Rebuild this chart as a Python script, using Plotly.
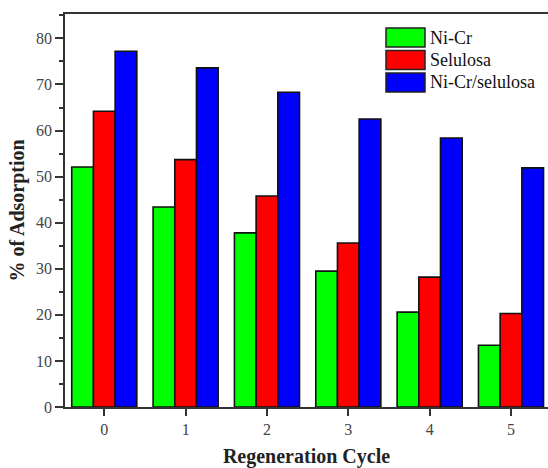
import plotly.graph_objects as go

# Adsorption (%) for each regeneration cycle
cycles = [0, 1, 2, 3, 4, 5]
ni_cr = [52.1, 43.4, 37.8, 29.5, 20.6, 13.4]
selulosa = [64.2, 53.7, 45.8, 35.6, 28.2, 20.3]
ni_cr_selulosa = [77.2, 73.6, 68.3, 62.5, 58.4, 51.9]

series_names = ["Ni-Cr", "Selulosa", "Ni-Cr/selulosa"]
series_values = [ni_cr, selulosa, ni_cr_selulosa]
series_colors = ["#00FF00", "#FF0000", "#0000FF"]

W, H = 548, 468
M_L, M_R, M_T, M_B = 65, 0, 14, 61
PLOT_W = W - M_L - M_R
PLOT_H = H - M_T - M_B

FONT = "Liberation Serif"
AXIS_COLOR = "#333333"

fig = go.Figure()
for name, vals, col in zip(series_names, series_values, series_colors):
    fig.add_trace(go.Bar(
        x=cycles, y=vals, name=name,
        marker=dict(color=col, line=dict(color="#111111", width=1.6)),
        showlegend=False,
    ))

# Boxed legend in the upper right corner
def px_x(p):
    return (p - M_L) / PLOT_W

def px_y(p):
    return (M_T + PLOT_H - p) / PLOT_H

row_centers = [37.5, 60.0, 82.5]
for name, col, yc in zip(series_names, series_colors, row_centers):
    fig.add_shape(
        type="rect", xref="paper", yref="paper",
        x0=px_x(386), x1=px_x(425), y0=px_y(yc + 9.5), y1=px_y(yc - 9.5),
        fillcolor=col, line=dict(color="#222222", width=1.5),
    )
    fig.add_annotation(
        xref="paper", yref="paper", x=px_x(428), y=px_y(yc),
        xanchor="left", yanchor="middle", showarrow=False,
        text=name, font=dict(family=FONT, size=18, color="#111111"),
    )

fig.update_layout(
    width=W, height=H,
    margin=dict(l=M_L, r=M_R, t=M_T, b=M_B),
    paper_bgcolor="white", plot_bgcolor="white",
    barmode="group", bargap=0.2, bargroupgap=0,
    font=dict(family=FONT, size=14, color="#444444"),
)

fig.update_xaxes(
    range=[-0.483, 5.455],
    tickmode="array", tickvals=cycles, ticktext=[str(c) for c in cycles],
    ticks="outside", ticklen=7, tickwidth=1.5, tickcolor=AXIS_COLOR,
    showline=True, linecolor=AXIS_COLOR, linewidth=1.5, mirror=True,
    showgrid=False, zeroline=False,
    tickfont=dict(family=FONT, size=16, color="#444444"),
    title=dict(text="<b>Regeneration Cycle</b>", standoff=12,
               font=dict(family=FONT, size=20, color="#222222")),
)

fig.update_yaxes(
    range=[0, 85.3],
    tickmode="array", tickvals=list(range(0, 81, 10)),
    ticks="outside", ticklen=8, tickwidth=1.5, tickcolor=AXIS_COLOR,
    minor=dict(tickvals=list(range(5, 86, 10)), ticks="outside", ticklen=4,
               tickwidth=1.5, tickcolor=AXIS_COLOR, showgrid=False),
    showline=True, linecolor=AXIS_COLOR, linewidth=1.5,
    showgrid=False, zeroline=False,
    tickfont=dict(family=FONT, size=16, color="#444444"),
    title=dict(text="<b>% of Adsorption</b>", standoff=6,
               font=dict(family=FONT, size=20, color="#222222")),
)

fig.write_html("out.html")
